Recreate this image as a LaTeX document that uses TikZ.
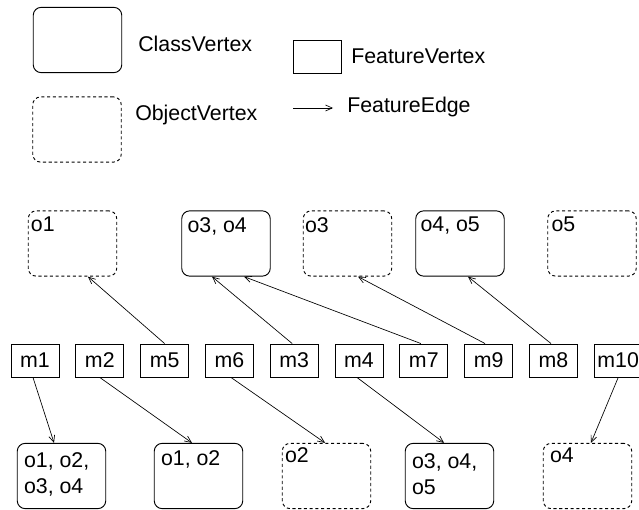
\documentclass[tikz,border=0pt]{standalone}
\usepackage{fontspec}
\setmainfont{Liberation Sans}
\usetikzlibrary{arrows.meta}
\begin{document}
\begin{tikzpicture}[x=0.75pt,y=-0.75pt,
  every node/.style={font=\fontsize{16}{19.5}\selectfont},
  box/.style={draw, line width=0.7pt, rounded corners=6pt,
    minimum width=66.4pt, minimum height=49pt, inner sep=0pt},
  classbox/.style={box},
  objbox/.style={box, dash pattern=on 2.3pt off 2pt},
  featbox/.style={draw, line width=0.7pt, minimum width=36pt,
    minimum height=24.75pt, inner sep=0pt},
  lbl/.style={anchor=north west, inner sep=0pt, align=left},
  legtext/.style={anchor=base west, inner sep=0pt},
  fedge/.style={line width=0.5pt, -{Straight Barb[length=5pt,width=4.5pt]}},
]
\useasboundingbox (0,0) rectangle (639,510);

% legend
\node[classbox] (legclass) at (77.5,40) {};
\node[legtext] (legclasstxt) at (138,52) {ClassVertex};
\node[objbox] (legobj) at (77,129.5) {};
\node[legtext] (legobjtxt) at (135,121) {ObjectVertex};
\node[featbox] (legfeat) at (317,57) {};
\node[legtext] (legfeattxt) at (351,64) {FeatureVertex};
\coordinate (fea) at (293,108);
\coordinate (feb) at (333,108);
\draw[fedge] (fea) -- (feb);
\node[legtext] (legedgetxt) at (347,113) {FeatureEdge};

% upper row of vertices
\node[objbox]   (t1) at (72.5,243.5) {};
\node[lbl,xshift=2.2pt,yshift=-4.9pt] at (t1.north west) {o1};
\node[classbox] (t2) at (226,243.5) {};
\node[lbl,xshift=4.5pt,yshift=-4.9pt] at (t2.north west) {o3, o4};
\node[objbox]   (t3) at (347.5,243.5) {};
\node[lbl,xshift=1.5pt,yshift=-4.9pt] at (t3.north west) {o3};
\node[classbox] (t4) at (460,243.5) {};
\node[lbl,xshift=3.75pt,yshift=-4.9pt] at (t4.north west) {o4, o5};
\node[objbox]   (t5) at (592,243.5) {};
\node[lbl,xshift=3pt,yshift=-4.9pt] at (t5.north west) {o5};

% feature vertices
\foreach \n/\x in {m1/35, m2/99.8, m5/164.6, m6/229.4, m3/294.2,
                   m4/359, m7/423.8, m9/488.6, m8/553.4, m10/618.2}
  \node[featbox] (\n) at (\x,360.5) {\n};

% lower row of vertices
\node[classbox] (b1) at (61.5,476) {};
\node[lbl,xshift=5.25pt,yshift=-7.1pt] at (b1.north west) {o1, o2,\\o3, o4};
\node[classbox] (b2) at (198.5,476) {};
\node[lbl,xshift=5.25pt,yshift=-5.6pt] at (b2.north west) {o1, o2};
\node[objbox]   (b3) at (326.5,476) {};
\node[lbl,xshift=2.25pt,yshift=-3.4pt] at (b3.north west) {o2};
\node[classbox] (b4) at (449.5,476) {};
\node[lbl,xshift=5.25pt,yshift=-7.9pt] at (b4.north west) {o3, o4,\\o5};
\node[objbox]   (b5) at (587.5,476) {};
\node[lbl,xshift=5.25pt,yshift=-3.4pt] at (b5.north west) {o4};

% feature edges
\draw[fedge] (m5.north) -- ([xshift=11.6pt]t1.south);
\draw[fedge] ([xshift=-1.5pt]m3.north) -- ([xshift=-10.5pt]t2.south);
\draw[fedge] ([xshift=-2.2pt]m7.north) -- ([xshift=13.5pt]t2.south);
\draw[fedge] ([xshift=-2.7pt]m9.north) -- ([xshift=7.9pt]t3.south);
\draw[fedge] ([xshift=-1.8pt]m8.north) -- ([xshift=6pt]t4.south);
\draw[fedge] ([xshift=-1.5pt]m1.south) -- ([xshift=-5.6pt]b1.north);
\draw[fedge] (m2.south) -- ([xshift=-4.9pt]b2.north);
\draw[fedge] ([xshift=1.2pt]m6.south) -- ([xshift=-1.1pt]b3.north);
\draw[fedge] ([xshift=-1.5pt]m4.south) -- ([xshift=-4.1pt]b4.north);
\draw[fedge] (m10.south) -- ([xshift=2.6pt]b5.north);
\end{tikzpicture}
\end{document}
